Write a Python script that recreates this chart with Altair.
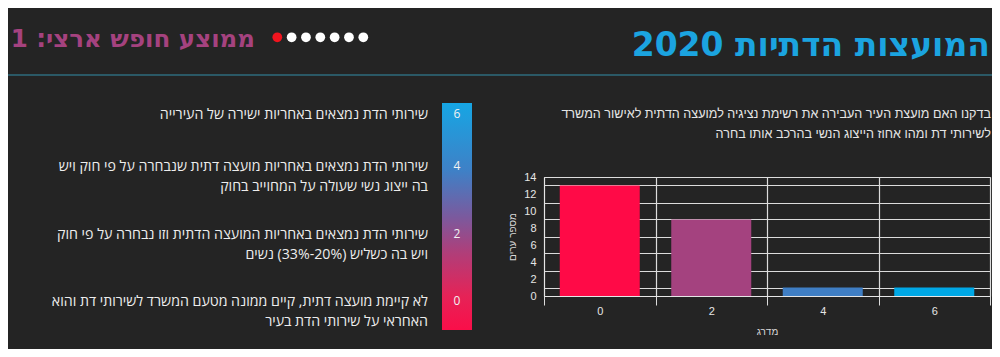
import altair as alt
import pandas as pd

# ---------------- data ----------------
grades = [0, 2, 4, 6]
city_counts = [13, 9, 1, 1]
bar_colors = ["#FF0A47", "#A4427F", "#3F7EC4", "#00A8E6"]

title_text = "המועצות הדתיות 2020"
subtitle_text = "ממוצע חופש ארצי: 1"
dot_steps = [0, 1, 2, 3, 4, 5, 6]
dot_colors = ["#F0141E", "#FFFFFF", "#FFFFFF", "#FFFFFF", "#FFFFFF", "#FFFFFF", "#FFFFFF"]

description_lines = [
    "בדקנו האם מועצת העיר העבירה את רשימת נציגיה למועצה הדתית לאישור המשרד",
    "לשירותי דת ומהו אחוז הייצוג הנשי בהרכב אותו בחרה",
]

legend_values = ["6", "4", "2", "0"]
legend_texts = [
    ["שירותי הדת נמצאים באחריות ישירה של העירייה"],
    ["שירותי הדת נמצאים באחריות מועצה דתית שנבחרה על פי חוק ויש",
     "בה ייצוג נשי שעולה על המחוייב בחוק"],
    ["שירותי הדת נמצאים באחריות המועצה הדתית וזו נבחרה על פי חוק",
     "ויש בה כשליש (20%-33%) נשים"],
    ["לא קיימת מועצה דתית, קיים ממונה מטעם המשרד לשירותי דת והוא",
     "האחראי על שירותי הדת בעיר"],
]

y_title = "מספר ערים"
x_title = "מדרג"

# ---------------- layout helpers ----------------
BG = "#242424"
OX, OY = 544, 177          # page position of the bar plot's top-left corner
W, H = 446, 119


def X(p):
    return p - OX


def Y(p):
    return p - OY


FONT = "Liberation Sans"


def text_layer(lines, x, y, size, color, align="right", weight="normal",
               font=FONT, line_height=20):
    df = pd.DataFrame({"label": ["\n".join(lines)]})
    return alt.Chart(df).mark_text(
        align=align, baseline="alphabetic", fontSize=size, color=color,
        fontWeight=weight, font=font, lineBreak="\n", lineHeight=line_height,
    ).encode(text="label:N", x=alt.value(x), y=alt.value(y))


# ---------------- bar chart ----------------
bars_df = pd.DataFrame({"grade": grades, "count": city_counts, "color": bar_colors})

bars = alt.Chart(bars_df).mark_bar(width=alt.RelativeBandSize(0.7175)).encode(
    x=alt.X(
        "grade:O",
        scale=alt.Scale(paddingInner=0, paddingOuter=0),
        axis=alt.Axis(
            title=x_title, labelAngle=0, tickBand="extent", grid=True,
            gridColor="#dcdcdc", gridWidth=1.2, tickColor="#dcdcdc", tickSize=9,
            domainColor="#e6e6e6", labelColor="#e6e6e6", labelFontSize=11,
            labelPadding=0, titleColor="#d8d8d8", titleFontSize=10,
            titleFontWeight="normal", titlePadding=10,
        ),
    ),
    y=alt.Y(
        "count:Q",
        scale=alt.Scale(domain=[0, 14], nice=False),
        axis=alt.Axis(
            title=y_title, values=list(range(0, 15)), labelOverlap=False,
            labelExpr="datum.value % 2 == 0 ? datum.label : ''",
            ticks=False, grid=True, gridColor="#dcdcdc", gridWidth=1.2,
            gridOpacity={"condition": {"test": "datum.value % 2 == 1", "value": 1}, "value": 0},
            domainColor="#e6e6e6", labelColor="#e6e6e6", labelFontSize=11,
            labelPadding=8, titleColor="#d8d8d8", titleFontSize=10,
            titleFontWeight="normal", titlePadding=6,
        ),
    ),
    color=alt.Color("color:N", scale=None),
)

# ---------------- header ----------------
title = text_layer([title_text], X(990), Y(56), 33, "#1BA4E0", align="right",
                   weight="bold", font="DejaVu Sans")
subtitle = text_layer([subtitle_text], X(255), Y(47), 24.5, "#A5427F", align="right",
                      weight="bold", font="DejaVu Sans")

dots_df = pd.DataFrame({"step": dot_steps, "color": dot_colors})
dots = alt.Chart(dots_df).mark_circle(size=95, opacity=1).encode(
    x=alt.X("step:Q", scale=alt.Scale(domain=[0, 6], range=[X(277.3), X(363.3)]), axis=None),
    y=alt.value(Y(37.3)),
    color=alt.Color("color:N", scale=None),
)

rule = alt.Chart(pd.DataFrame({"a": [0]})).mark_rule(color="#2B5966", strokeWidth=2).encode(
    x=alt.value(X(8)), x2=alt.value(X(992)), y=alt.value(Y(75))
)

# ---------------- description ----------------
description = text_layer(description_lines, X(991), Y(118), 12.6, "#E6E6E6", line_height=19.5)

# ---------------- gradient legend ----------------
grad = alt.Gradient(
    gradient="linear",
    stops=[
        alt.GradientStop(color="#16A6E4", offset=0),
        alt.GradientStop(color="#3F80C6", offset=0.3),
        alt.GradientStop(color="#7A5A9E", offset=0.5),
        alt.GradientStop(color="#B03E79", offset=0.66),
        alt.GradientStop(color="#E52357", offset=0.85),
        alt.GradientStop(color="#FA0E49", offset=1),
    ],
    x1=0, x2=0, y1=0, y2=1,
)
gradient_bar = alt.Chart(pd.DataFrame({"a": [0]})).mark_rect(fill=grad).encode(
    x=alt.value(X(442)), x2=alt.value(X(472)), y=alt.value(Y(103)), y2=alt.value(Y(330))
)

legend_baselines = [118, 170, 238, 305]
legend_layers = []
for val, lines, base in zip(legend_values, legend_texts, legend_baselines):
    legend_layers.append(
        text_layer([val], X(457), Y(base), 12, "#F2F2F2", align="center", font="Open Sans")
    )
    legend_layers.append(
        text_layer(lines, X(428), Y(base + 1), 14.2, "#EDEDED", font="Open Sans", line_height=20)
    )

chart = alt.layer(
    bars, rule, title, subtitle, dots, description, gradient_bar, *legend_layers
).resolve_scale(
    x="independent", color="independent"
).properties(
    width=W, height=H,
    padding={"left": OX - 8, "top": OY - 8, "right": 2, "bottom": 357 - 8 - (OY + H)},
    autosize=alt.AutoSizeParams(type="none"),
    background=BG,
).configure_view(strokeWidth=0).configure(font=FONT)

chart.save("out.html", embed_options={"renderer": "svg", "actions": False})
